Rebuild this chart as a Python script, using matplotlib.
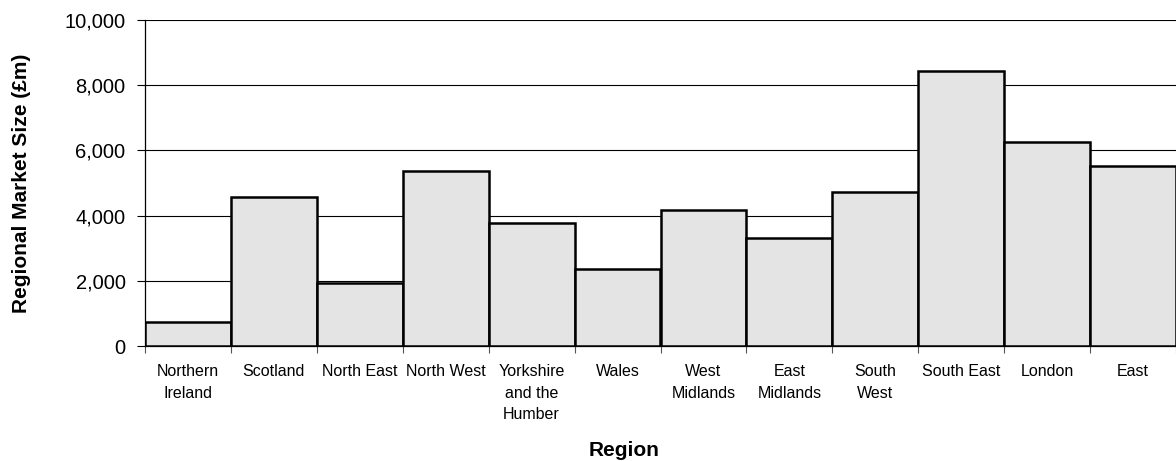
import matplotlib
matplotlib.use("Agg")
import matplotlib.pyplot as plt
import numpy as np

# regional market size
regions = [
    "Northern\nIreland", "Scotland", "North East", "North West",
    "Yorkshire\nand the\nHumber", "Wales", "West\nMidlands", "East\nMidlands",
    "South\nWest", "South East", "London", "East",
]
market_size = [750, 4560, 1940, 5370, 3770, 2360, 4180, 3320, 4710, 8430, 6260, 5510]
y_ticks = [0, 2000, 4000, 6000, 8000, 10000]

plt.rcParams["font.family"] = ["Liberation Sans", "DejaVu Sans"]

fig = plt.figure(figsize=(11.76, 4.61), dpi=100)
ax = fig.add_axes([145 / 1176, 1 - 346 / 461, 1 - 145 / 1176, (346 - 20) / 461])

x = np.arange(len(regions))
ax.bar(x, market_size, width=1.0, color="#e4e4e4", edgecolor="black",
       linewidth=1.8, zorder=3)

ax.set_xlim(-0.5, len(regions) - 0.5)
ax.set_ylim(0, 10000)
ax.set_yticks(y_ticks)
ax.set_yticklabels([f"{v:,}" for v in y_ticks], fontsize=14.5)
ax.yaxis.grid(True, color="black", linewidth=0.8, zorder=0)

# boundaries get the tick marks, centres get the labels
ax.set_xticks(np.arange(len(regions) + 1) - 0.5)
ax.set_xticklabels([])
ax.set_xticks(x, minor=True)
ax.set_xticklabels(regions, minor=True, fontsize=11.5, linespacing=1.55)
ax.tick_params(axis="x", which="major", length=5, width=0.8, color="#555555")
ax.tick_params(axis="x", which="minor", length=0, pad=13)
ax.tick_params(axis="y", length=6, width=0.8, pad=8)

for side in ["top", "right"]:
    ax.spines[side].set_visible(False)
ax.spines["left"].set_linewidth(0.9)
ax.spines["bottom"].set_linewidth(0.9)

ax.set_xlabel("Region", fontsize=15, fontweight="bold")
ax.xaxis.set_label_coords((624 - 145) / 1031, (346 - 450) / 326)
ax.xaxis.label.set_va("center")
ax.set_ylabel("Regional Market Size (£m)", fontsize=15, fontweight="bold")
ax.yaxis.set_label_coords((22 - 145) / 1031, (346 - 183) / 326)
ax.yaxis.label.set_va("center")

fig.savefig("out.png", dpi=100)
